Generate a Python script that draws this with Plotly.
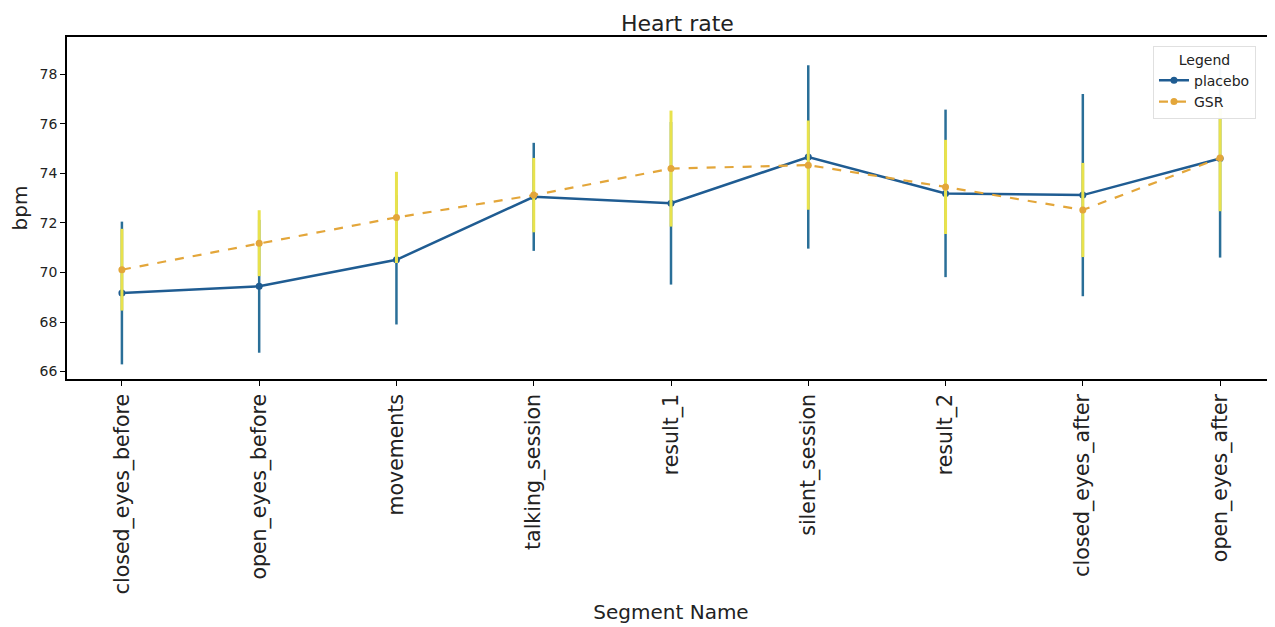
import plotly.graph_objects as go

segments = ["closed_eyes_before", "open_eyes_before", "movements", "talking_session",
            "result_1", "silent_session", "result_2", "closed_eyes_after", "open_eyes_after"]
placebo_mean = [69.17, 69.44, 70.51, 73.05, 72.79, 74.66, 73.19, 73.12, 74.60]
placebo_err = [2.88, 2.68, 2.61, 2.18, 3.28, 3.70, 3.38, 4.08, 4.00]
gsr_mean = [70.11, 71.18, 72.22, 73.12, 74.19, 74.33, 73.45, 72.52, 74.62]
gsr_err = [1.65, 1.33, 1.84, 1.50, 2.34, 1.80, 1.90, 1.90, 2.15]

FONT = "DejaVu Sans"
BLUE = "#1f5c92"
BLUE_ERR = "#2a6f98"
GSR_LINE = "#e3a63a"
GSR_ERR = "#e8e24c"

fig = go.Figure()
fig.add_trace(go.Scatter(
    x=segments, y=placebo_mean, name="placebo", mode="lines+markers",
    line=dict(color=BLUE, width=2.5),
    marker=dict(color=BLUE, size=7, symbol="circle"),
    error_y=dict(type="data", array=placebo_err, visible=True,
                 color=BLUE_ERR, thickness=2.5, width=0),
))
fig.add_trace(go.Scatter(
    x=segments, y=gsr_mean, name="GSR", mode="lines+markers",
    line=dict(color=GSR_LINE, width=2.2, dash="dash"),
    marker=dict(color=GSR_LINE, size=7, symbol="circle"),
    error_y=dict(type="data", array=gsr_err, visible=True,
                 color=GSR_ERR, thickness=3, width=0),
))

fig.update_layout(
    width=1275, height=627,
    paper_bgcolor="white", plot_bgcolor="white",
    margin=dict(l=59, r=8, t=29, b=256, autoexpand=False),
    font=dict(family=FONT, color="#222222"),
    title=dict(text="Heart rate", x=0.525, xanchor="center", y=0.975, yanchor="middle",
               font=dict(size=22, family=FONT, color="#222222")),
    showlegend=True,
    legend=dict(
        title=dict(text="Legend", side="top center", font=dict(size=14, family=FONT)),
        x=0.899, xanchor="left", y=0.975, yanchor="top",
        bgcolor="rgba(255,255,255,0.95)", bordercolor="#e0e0e0", borderwidth=1,
        font=dict(size=14, family=FONT), itemwidth=30,
    ),
)
fig.update_xaxes(
    type="category", range=[-0.4, 8.4], automargin=False,
    tickangle=-90, tickfont=dict(size=20.5, family=FONT, color="#222222"),
    ticks="outside", ticklen=5, tickcolor="black",
    showline=True, linecolor="black", linewidth=1.5, mirror=True,
    showgrid=False, zeroline=False,
    title=dict(text="Segment Name", font=dict(size=20, family=FONT, color="#222222"), standoff=12),
)
fig.update_yaxes(
    range=[65.7, 79.5], tickmode="array", tickvals=[66, 68, 70, 72, 74, 76, 78], automargin=False,
    tickfont=dict(size=14, family=FONT, color="#222222"),
    ticks="outside", ticklen=5, tickcolor="black",
    showline=True, linecolor="black", linewidth=1.5, mirror=True,
    showgrid=False, zeroline=False,
    title=dict(text="bpm", font=dict(size=20, family=FONT, color="#222222"), standoff=8),
)

fig.write_html("out.html")
